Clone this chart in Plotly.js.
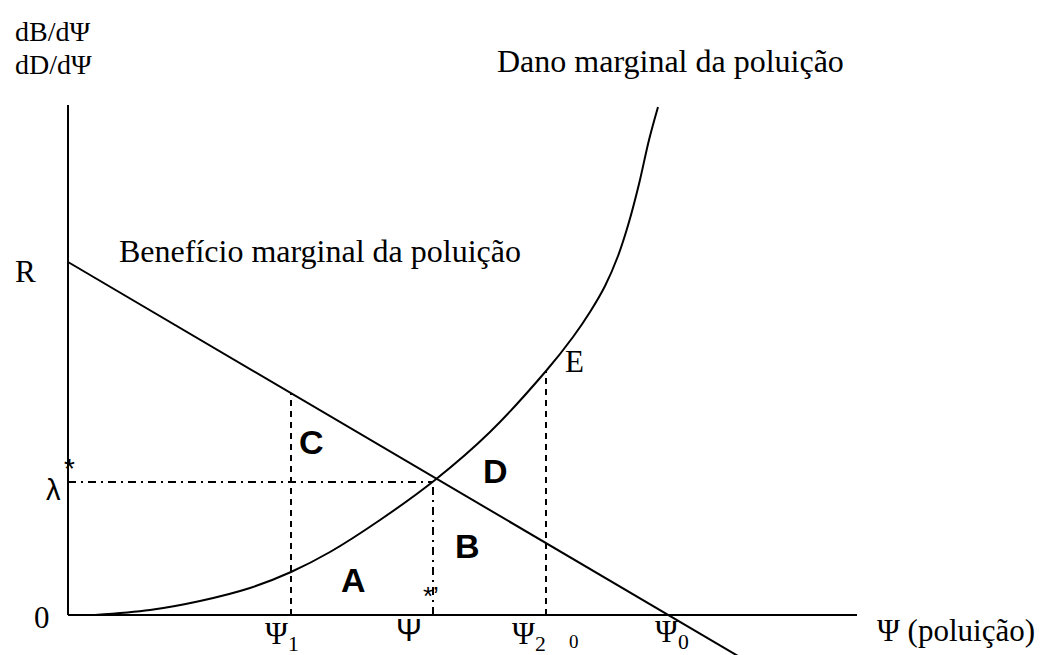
<!DOCTYPE html>
<html>
<head>
<meta charset="utf-8">
<script src="https://cdn.plot.ly/plotly-3.0.1.min.js"></script>
<style>
  html, body { margin: 0; padding: 0; background: #fff; }
  #chart { width: 1042px; height: 655px; }
</style>
</head>
<body>
<div id="chart"></div>
<script>
// Diagram values (arbitrary units: 1 unit = 10 px of the original figure)

// marginal benefit: straight line from R down through Psi0
const benefitX = [0, 67.0];
const benefitY = [35.3, -4.1];

// marginal damage: convex curve
const damageX = [2.7, 8.2, 13.2, 18.2, 22.3, 26.2, 31.2, 36.7, 42.2, 47.8,
                 50.5, 52.2, 53.7, 55.0, 56.1, 57.1, 58.1, 59.0];
const damageY = [0, 0.5, 1.4, 2.7, 4.3, 6.3, 9.5, 13.5, 18.3, 24.4,
                 27.8, 30.3, 32.9, 35.9, 39.3, 43.1, 47.5, 50.8];

// axes extent
const axisXEnd = 78.9;
const axisYEnd = 51.0;

// key points
const psi1 = 22.3, psi1Top = 22.2;
const psiStar = 36.5, lambdaStar = 13.3;
const psi2 = 47.8, psi2Top = 24.4;

const serif = '"Liberation Serif", "Times New Roman", serif';
const sans = '"Liberation Sans", Arial, sans-serif';

const line = (xs, ys, dash, shape) => ({
    x: xs, y: ys, type: 'scatter', mode: 'lines', hoverinfo: 'skip',
    line: {color: '#000', width: 2, dash: dash || 'solid', shape: shape || 'linear',
           smoothing: 1.0}
});

const data = [
    line([0, 0], [0, axisYEnd]),
    line([0, axisXEnd], [0, 0]),
    line(benefitX, benefitY),
    line(damageX, damageY, 'solid', 'spline'),
    line([psi1, psi1], [0, psi1Top], '6px,5px'),
    line([psi2, psi2], [0, psi2Top], '6px,5px'),
    line([0, psiStar], [lambdaStar, lambdaStar], '8px,5px,2px,5px'),
    line([psiStar, psiStar], [0, lambdaStar], '8px,5px,2px,5px')
];

const ann = (text, x, y, font, size, opts) => Object.assign({
    text: text, x: x, y: y, xref: 'x', yref: 'y', showarrow: false,
    xanchor: 'left', yanchor: 'middle',
    font: {family: font, size: size, color: '#000'}
}, opts || {});

const annotations = [
    ann('dB/dΨ', -5.5, 58.4, serif, 28),
    ann('dD/dΨ', -5.5, 55.1, serif, 28),
    ann('Dano marginal da poluição', 42.7, 55.4, serif, 32),
    ann('Benefício marginal da poluição', 4.9, 36.4, serif, 32),
    ann('R', -5.5, 34.4, serif, 31),
    ann('λ', -2.4, 12.5, sans, 29),
    ann('*', -0.6, 14.7, sans, 28),
    ann('*’', 35.3, 1.9, sans, 26),
    ann('0', -3.6, -0.2, serif, 31),
    ann('Ψ<sub>1</sub>', 19.5, -2.1, serif, 31),
    ann('Ψ', 32.6, -1.5, sans, 31),
    ann('Ψ<sub>2</sub>', 44.2, -2.1, serif, 31),
    ann('0', 49.9, -2.6, serif, 19),
    ann('Ψ<sub>0</sub>', 58.5, -1.9, serif, 31),
    ann('Ψ (poluição)', 80.7, -1.5, serif, 31),
    ann('E', 49.5, 25.4, serif, 31),
    ann('<b>C</b>', 22.9, 17.3, sans, 34),
    ann('<b>D</b>', 41.3, 14.4, sans, 34),
    ann('<b>B</b>', 38.5, 6.9, sans, 34),
    ann('<b>A</b>', 27.1, 3.5, sans, 34)
];

const layout = {
    width: 1042, height: 655,
    margin: {l: 0, r: 0, t: 0, b: 0},
    paper_bgcolor: '#fff', plot_bgcolor: '#fff',
    showlegend: false,
    xaxis: {range: [-6.8, 97.4], visible: false, fixedrange: true},
    yaxis: {range: [-4.0, 61.5], visible: false, fixedrange: true},
    annotations: annotations
};

Plotly.newPlot('chart', data, layout, {displayModeBar: false, staticPlot: true});
</script>
</body>
</html>
